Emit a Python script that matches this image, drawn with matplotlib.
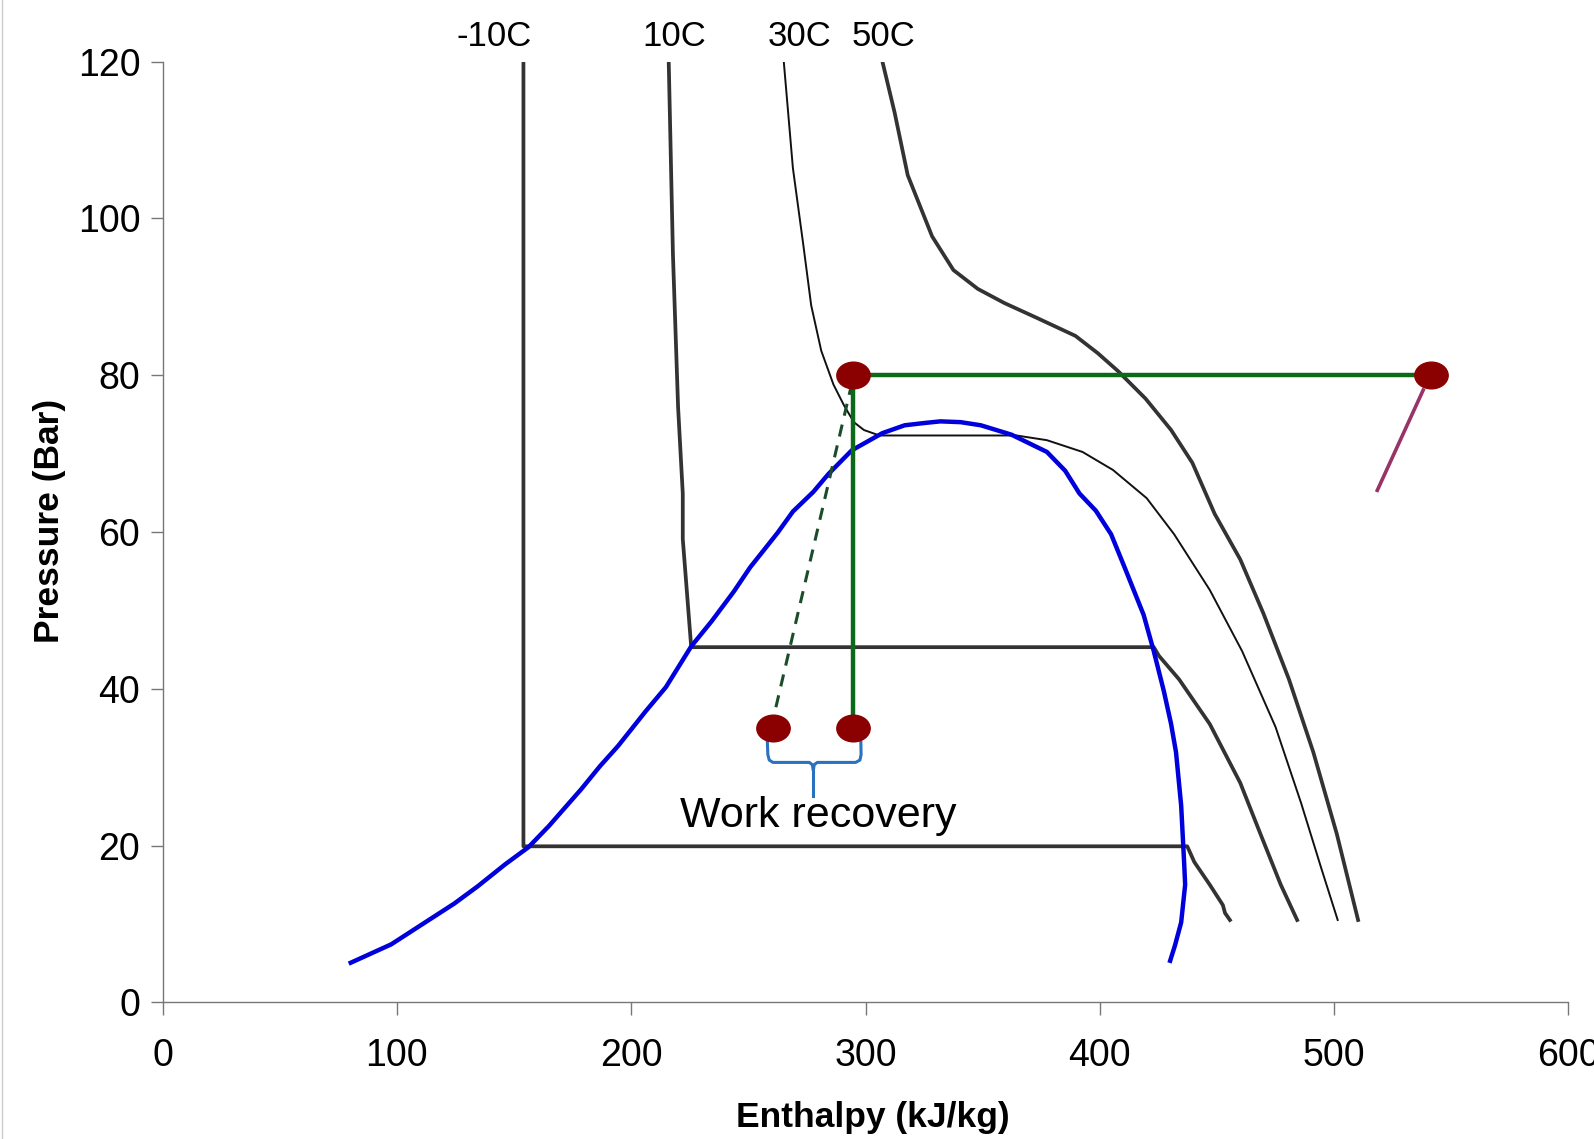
import matplotlib.pyplot as plt
import numpy as np
from matplotlib.path import Path
from matplotlib.lines import Line2D

plt.rcParams['font.family'] = ['Liberation Sans', 'DejaVu Sans']

# saturation dome (blue)
dome_h = [80.3, 97.6, 124.5, 134.5, 146.2, 156.2, 164.9, 178.7, 186.6, 194.4, 206.1, 214.8,
          225.6, 234.3, 243.8, 250.8, 262.5, 269.0, 277.7, 284.2, 294.1, 307.2, 316.7, 325.4,
          331.9, 340.6, 349.2, 362.3, 377.4, 385.2, 391.3, 398.3, 404.8, 410.8, 418.7, 423.0,
          427.3, 430.4, 432.5, 434.7, 436.0, 436.4, 434.7, 432.1, 430.0]
dome_p = [5.05, 7.4, 12.6, 14.8, 17.6, 19.8, 22.5, 27.2, 30.1, 32.7, 37.1, 40.2,
          45.4, 48.6, 52.4, 55.5, 59.9, 62.6, 65.1, 67.4, 70.4, 72.6, 73.6, 73.9,
          74.1, 74.0, 73.6, 72.4, 70.2, 67.8, 64.9, 62.7, 59.7, 55.3, 49.4, 44.8,
          39.7, 35.5, 31.9, 25.1, 17.6, 15.0, 10.2, 7.3, 5.3]

# isotherms
t_m10_h = [154.0, 154.0, 437.3, 440.3, 446.9, 452.5, 453.4, 455.5]
t_m10_p = [120.0, 19.9, 19.9, 17.9, 15.0, 12.4, 11.4, 10.5]

t_10_h = [216.0, 217.8, 220.0, 222.0, 222.0, 225.6, 423.0, 425.2, 433.8, 446.9, 459.9, 468.5, 477.2, 484.2]
t_10_p = [120.0, 95.4, 75.9, 64.9, 59.1, 45.3, 45.3, 44.2, 41.2, 35.5, 28.0, 21.5, 15.0, 10.5]

t_30_h = [265.1, 269.0, 273.4, 276.8, 281.1, 286.3, 290.7, 295.0, 299.3, 305.9, 364.4, 377.4,
          392.6, 405.6, 420.0, 431.7, 446.9, 460.7, 475.0, 485.9, 494.6, 501.5]
t_30_p = [120.0, 106.4, 96.7, 88.9, 83.1, 78.8, 76.2, 74.0, 73.0, 72.3, 72.3, 71.7,
          70.2, 67.9, 64.3, 59.7, 52.6, 44.8, 35.1, 25.4, 17.0, 10.5]

t_50_h = [307.2, 312.4, 318.0, 328.4, 337.5, 347.9, 359.2, 373.1, 389.6, 399.1, 407.8, 419.5,
          430.4, 439.5, 449.0, 459.9, 469.8, 480.7, 491.1, 501.1, 510.2]
t_50_p = [120.0, 113.5, 105.5, 97.7, 93.4, 91.0, 89.2, 87.3, 85.0, 82.8, 80.5, 77.0,
          73.0, 68.8, 62.3, 56.5, 49.6, 41.2, 31.9, 21.5, 10.5]

iso_labels = ['-10C', '10C', '30C', '50C']
iso_label_h = [141.5, 218.5, 272.0, 307.5]

# cycle
cycle_h = [541.4, 294.6, 294.6]
cycle_p = [80.0, 80.0, 35.0]
dash_h = [294.2, 260.3]
dash_p = [79.0, 35.8]
purple_h = [538.0, 518.4]
purple_p = [78.1, 65.3]
pts_h = [294.6, 541.4, 260.3, 294.6]
pts_p = [80.0, 80.0, 35.0, 35.0]

# work recovery bracket
brace_h = [258.1, 258.3, 258.9, 260.5, 276.0, 277.3, 277.7, 278.1, 279.4, 295.8, 297.6, 298.1, 298.0]
brace_p = [33.2, 31.6, 30.9, 30.6, 30.6, 30.3, 29.6, 30.3, 30.6, 30.6, 30.9, 31.6, 33.2]
stem_h = [277.7, 277.7]
stem_p = [29.8, 26.3]

fig = plt.figure(figsize=(15.94, 11.39), dpi=100)
ax = fig.add_axes([0.102, 0.12, 0.882, 0.826])

ax.plot(t_m10_h, t_m10_p, color='#333333', lw=2.7)
ax.plot(t_10_h, t_10_p, color='#333333', lw=2.7)
ax.plot(t_30_h, t_30_p, color='#111111', lw=1.4)
ax.plot(t_50_h, t_50_p, color='#333333', lw=2.7)
ax.plot(dome_h, dome_p, color='#0000dd', lw=3.2)

ax.plot(cycle_h, cycle_p, color='#0b6a18', lw=3.2)
ax.plot(dash_h, dash_p, color='#1b4d2a', lw=2.2, ls=(0, (4, 3)))
ax.plot(purple_h, purple_p, color='#993366', lw=2.6)

circ = Path.unit_circle()
ell = Path(circ.vertices * np.array([1.25, 1.0]), circ.codes)
ax.plot(pts_h, pts_p, ls='none', marker=ell, markersize=24, color='#8b0000', zorder=5)

ax.plot(brace_h, brace_p, color='#2a72c0', lw=2.2)
ax.plot(stem_h, stem_p, color='#2a72c0', lw=2.2)
ax.text(280, 23.8, 'Work recovery', fontsize=31, ha='center', va='center')

for lab, h in zip(iso_labels, iso_label_h):
    ax.text(h, 123.2, lab, fontsize=25, ha='center', va='center', clip_on=False)

ax.set_xlim(0, 600)
ax.set_ylim(0, 120)
ax.set_xticks(range(0, 601, 100))
ax.set_yticks(range(0, 121, 20))
for s in ['top', 'right']:
    ax.spines[s].set_visible(False)
for s in ['left', 'bottom']:
    ax.spines[s].set_color('#777777')
    ax.spines[s].set_linewidth(1.0)
ax.tick_params(axis='both', colors='#777777', labelcolor='black', labelsize=27, length=9, width=1.0)
ax.tick_params(axis='x', pad=17)
ax.tick_params(axis='y', pad=7)

ax.set_xlabel('Enthalpy (kJ/kg)', fontsize=25.5, fontweight='bold')
ax.xaxis.set_label_coords(0.505, -0.105)
ax.set_ylabel('Pressure (Bar)', fontsize=25.5, fontweight='bold')
ax.yaxis.set_label_coords(-0.069, 0.512)

fig.add_artist(Line2D([0.0015, 0.0015], [0, 1], color='#cccccc', lw=1.0))

fig.savefig('out.png', dpi=100)
